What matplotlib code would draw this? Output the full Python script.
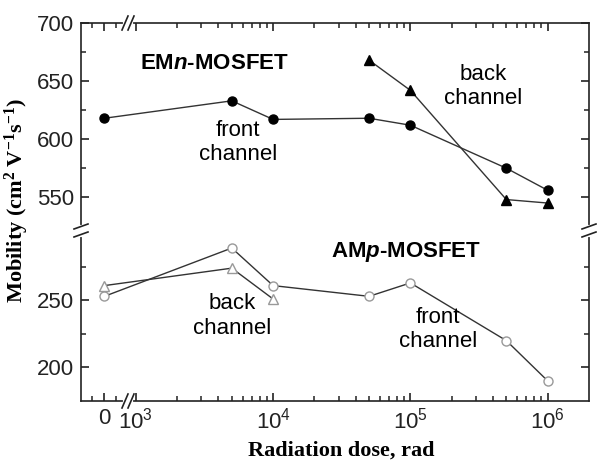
import matplotlib.pyplot as plt
import numpy as np

plt.rcParams['font.family'] = ['Liberation Sans', 'DejaVu Sans']
plt.rcParams['mathtext.fontset'] = 'custom'
plt.rcParams['mathtext.rm'] = 'Liberation Sans'
plt.rcParams['mathtext.it'] = 'Liberation Sans:italic'
plt.rcParams['mathtext.bf'] = 'Liberation Sans:bold'
plt.rcParams['mathtext.bfit'] = 'Liberation Sans:italic:bold'
plt.rcParams['mathtext.default'] = 'regular'

# data
dose = [0, 5e3, 1e4, 5e4, 1e5, 5e5, 1e6]
em_front = [618, 633, 617, 618, 612, 575, 556]
em_back_dose = [5e4, 1e5, 5e5, 1e6]
em_back = [668, 642, 548, 545]
am_front = [253, 289, 261, 253, 263, 220, 190]
am_back_dose = [0, 5e3, 1e4]
am_back = [261, 274, 251]

x_major = [0, 1e3, 1e4, 1e5, 1e6]
x_labels = ['0', r'$10^{3}$', r'$10^{4}$', r'$10^{5}$', r'$10^{6}$']
y_major = [200, 250, 550, 600, 650, 700]
y_minor = [225, 275, 575, 625, 675]


# x: short linear stub around 0, then log10 from 10^3 on
X0, K, XT = 2.771, 0.087 / 500, 850

def fwd_x(x):
    x = np.asarray(x, float)
    return np.where(x < XT, X0 + x * K, np.log10(np.maximum(x, XT)))

def inv_x(p):
    p = np.asarray(p, float)
    return np.where(p < 2.925, (p - X0) / K, 10 ** p)

# y: two linear pieces, 175-302 below the break and 522-700 above
def fwd_y(y):
    y = np.asarray(y, float)
    return np.where(y < 412, np.minimum((y - 175) * 1.34, 171),
                    np.maximum(171 + (y - 522) * 1.16, 171))

def inv_y(p):
    p = np.asarray(p, float)
    return np.where(p < 171, p / 1.34 + 175, (p - 171) / 1.16 + 522)


fig = plt.figure(figsize=(5.97, 4.67), dpi=100)
ax = fig.add_axes([81 / 597, 1 - 401 / 467, 508 / 597, 378 / 467])
ax.set_xscale('function', functions=(fwd_x, inv_x))
ax.set_yscale('function', functions=(fwd_y, inv_y))

line = '#333333'
ax.plot(dose, em_front, '-o', color=line, lw=1, mfc='black', mec='black', ms=6.5)
ax.plot(em_back_dose, em_back, '-^', color=line, lw=1, mfc='black', mec='black', ms=6.5)
ax.plot(dose, am_front, '-o', color=line, lw=1, mfc='white', mec='#999999', ms=6.5)
ax.plot(am_back_dose, am_back, '-^', color=line, lw=1, mfc='white', mec='#999999', ms=6.5)

ax.set_xlim(-980, 2e6)
ax.set_ylim(175, 700)

x_minor = [-500, 500] + [k * 10 ** n for n in (3, 4, 5) for k in range(2, 10)]
ax.xaxis.set_major_locator(plt.FixedLocator(x_major))
ax.xaxis.set_major_formatter(plt.FixedFormatter(x_labels))
ax.xaxis.set_minor_locator(plt.FixedLocator(x_minor))
ax.yaxis.set_major_locator(plt.FixedLocator(y_major))
ax.yaxis.set_major_formatter(plt.FixedFormatter([str(v) for v in y_major]))
ax.yaxis.set_minor_locator(plt.FixedLocator(y_minor))

ax.tick_params(which='both', direction='in', top=True, right=True,
               labelsize=16, color='#222222', labelcolor='#222222')
ax.tick_params(which='major', length=6, width=1.2, pad=5)
ax.tick_params(which='minor', length=3.5, width=1.1)
for s in ax.spines.values():
    s.set_linewidth(1.2)
    s.set_color('#222222')

serif = ['Liberation Serif', 'DejaVu Serif']
ax.set_xlabel('Radiation dose, rad', family=serif, fontweight='bold', fontsize=16)
ax.xaxis.set_label_coords(0.513, -0.105)
ax.set_ylabel(r'Mobility (cm$^{\mathdefault{2}}$ V$^{\mathdefault{-1}}$s$^{\mathdefault{-1}}$)',
              family=serif, fontweight='bold', fontsize=16)
ax.yaxis.set_label_coords(-0.098, 0.53)

ax.text(0.262, 0.894, r'EM$\mathbfit{n}$-MOSFET', transform=ax.transAxes,
        ha='center', va='center', fontsize=16, fontweight='bold')
ax.text(0.640, 0.394, r'AM$\mathbfit{p}$-MOSFET', transform=ax.transAxes,
        ha='center', va='center', fontsize=16, fontweight='bold')
ax.text(0.309, 0.683, 'front\nchannel', transform=ax.transAxes,
        ha='center', va='center', fontsize=16)
ax.text(0.791, 0.831, 'back\nchannel', transform=ax.transAxes,
        ha='center', va='center', fontsize=16)
ax.text(0.297, 0.225, 'back\nchannel', transform=ax.transAxes,
        ha='center', va='center', fontsize=16)
ax.text(0.703, 0.190, 'front\nchannel', transform=ax.transAxes,
        ha='center', va='center', fontsize=16)

# break marks: a small gap in the spine with two slashes
W, H = 508.0, 378.0
def xbreak(fx, fy):
    ax.plot([fx - 3 / W, fx + 3 / W], [fy, fy], color='white', lw=3,
            transform=ax.transAxes, clip_on=False, zorder=5)
    for dx in (-3, 3):
        ax.plot([fx + (dx - 3) / W, fx + (dx + 3) / W], [fy - 7 / H, fy + 7 / H],
                color='#222222', lw=1.2, transform=ax.transAxes, clip_on=False, zorder=6)

def ybreak(fx, fy):
    ax.plot([fx, fx], [fy - 4 / H, fy + 4 / H], color='white', lw=3,
            transform=ax.transAxes, clip_on=False, zorder=5)
    for dy in (-4, 4):
        ax.plot([fx - 7 / W, fx + 7 / W], [fy + (dy - 2.5) / H, fy + (dy + 2.5) / H],
                color='#222222', lw=1.2, transform=ax.transAxes, clip_on=False, zorder=6)

bx = (128 - 81) / W
by = (401 - 230.5) / H
for fy in (0, 1):
    xbreak(bx, fy)
for fx in (0, 1):
    ybreak(fx, by)

fig.savefig('out.png', dpi=100)
